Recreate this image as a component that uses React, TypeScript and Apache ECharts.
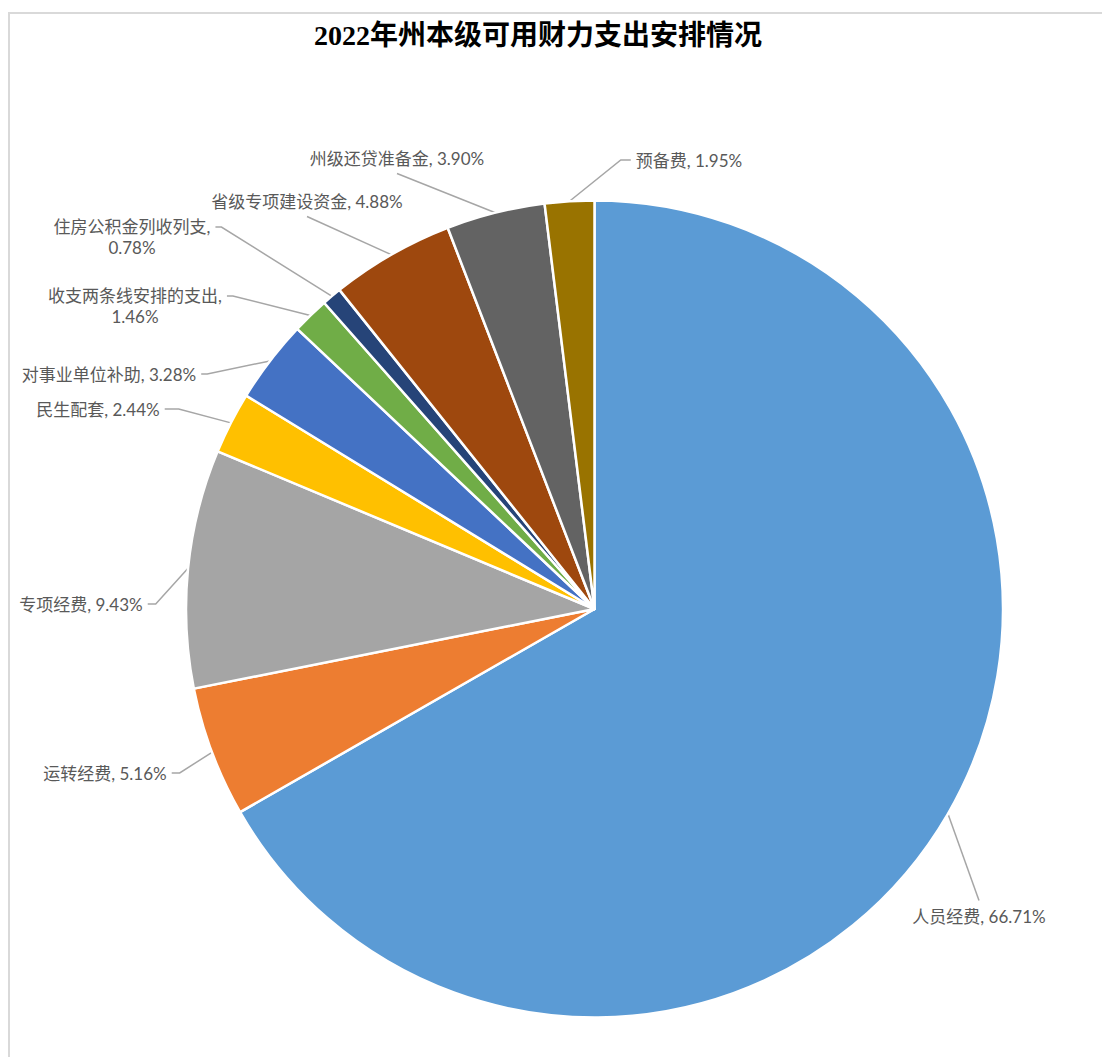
import React, { useEffect, useRef } from "react";
import * as echarts from "echarts";

const chartTitle = "2022年州本级可用财力支出安排情况";
const categories = [
  "人员经费",
  "运转经费",
  "专项经费",
  "民生配套",
  "对事业单位补助",
  "收支两条线安排的支出",
  "住房公积金列收列支",
  "省级专项建设资金",
  "州级还贷准备金",
  "预备费",
];
const values = [66.71, 5.16, 9.43, 2.44, 3.28, 1.46, 0.78, 4.88, 3.9, 1.95];
const wrapLabel = [false, false, false, false, false, true, true, false, false, false];
const colors = [
  "#5B9BD5",
  "#ED7D31",
  "#A5A5A5",
  "#FFC000",
  "#4472C4",
  "#70AD47",
  "#264478",
  "#9E480E",
  "#636363",
  "#997300",
];

// label centre positions (Excel-style manual placement) and leader-line attachment
const labelPlacement = [
  { x: 979, y: 916, side: "top", stub: 0, dy: 0 },
  { x: 105, y: 773, side: "right", stub: 8, dy: 0 },
  { x: 81, y: 604, side: "right", stub: 8, dy: 0 },
  { x: 98, y: 409, side: "right", stub: 14, dy: 0 },
  { x: 109, y: 374, side: "right", stub: 6, dy: 0 },
  { x: 135, y: 306, side: "right", stub: 6, dy: -10 },
  { x: 132, y: 237, side: "right", stub: 6, dy: -10 },
  { x: 307, y: 201, side: "bottom", stub: 0, dy: 0 },
  { x: 397, y: 158, side: "bottom", stub: 0, dy: 0 },
  { x: 689, y: 160, side: "left", stub: 10, dy: 0 },
];

const LABEL_FONT = "Lato, 'Noto Sans CJK SC', sans-serif";

export default function App() {
  const ref = useRef<HTMLDivElement>(null);
  useEffect(() => {
    if (!ref.current) return;
    const chart = echarts.init(ref.current, undefined, { renderer: "svg" });
    const data = categories.map((name, i) => ({
      name,
      value: values[i],
      itemStyle: { color: colors[i] },
    }));
    chart.setOption({
      animation: false,
      backgroundColor: "#ffffff",
      graphic: [
        {
          type: "rect",
          shape: { x: 9, y: 13, width: 1200, height: 1200 },
          style: { fill: "none", stroke: "#d9d9d9", lineWidth: 2 },
          silent: true,
          z: -1,
        },
        {
          type: "text",
          x: 538,
          y: 35,
          style: {
            text: chartTitle,
            fill: "#000000",
            font: "bold 28px 'Liberation Serif', 'Noto Sans CJK SC', serif",
            textAlign: "center",
            textVerticalAlign: "middle",
          },
        },
      ],
      series: [
        {
          type: "pie",
          center: [594.5, 609],
          radius: [0, 408.5],
          startAngle: 90,
          clockwise: true,
          avoidLabelOverlap: false,
          data,
          itemStyle: { borderColor: "#ffffff", borderWidth: 2.5 },
          emphasis: { disabled: true },
          label: {
            show: true,
            position: "outside",
            color: "#595959",
            fontSize: 17,
            fontFamily: LABEL_FONT,
            lineHeight: 21,
            align: "center",
            formatter: (p: any) =>
              `${p.name},${wrapLabel[p.dataIndex] ? "\n" : " "}${Number(p.value).toFixed(2)}%`,
          },
          labelLine: {
            show: true,
            length: 4,
            length2: 4,
            lineStyle: { color: "#a6a6a6", width: 1.5 },
          },
          labelLayout: (params: any) => {
            const p = labelPlacement[params.dataIndex];
            const w = params.labelRect.width;
            const h = params.labelRect.height;
            const pts = params.labelLinePoints;
            const start = pts ? pts[0] : [p.x, p.y];
            const gap = 5;
            let end: number[];
            let mid: number[];
            if (p.side === "right") {
              end = [p.x + w / 2 + gap, p.y + p.dy];
              mid = [end[0] + p.stub, end[1]];
            } else if (p.side === "left") {
              end = [p.x - w / 2 - gap, p.y + p.dy];
              mid = [end[0] - p.stub, end[1]];
            } else if (p.side === "top") {
              end = [p.x, p.y - h / 2 - gap];
              mid = end;
            } else {
              end = [p.x, p.y + h / 2 + gap];
              mid = end;
            }
            return {
              x: p.x,
              y: p.y,
              align: "center",
              verticalAlign: "middle",
              labelLinePoints: [start, mid, end],
            };
          },
        },
      ],
    });
    return () => chart.dispose();
  }, []);
  return (
    <div
      ref={ref}
      style={{ position: "absolute", left: 0, top: 0, width: 1102, height: 1057 }}
    />
  );
}
